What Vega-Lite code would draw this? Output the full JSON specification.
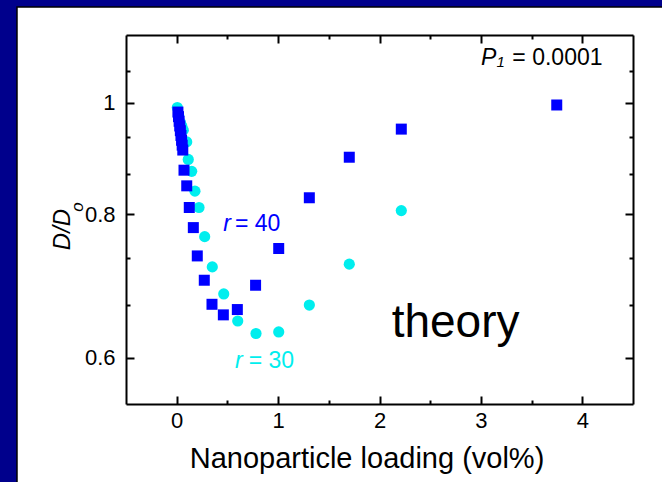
{
  "$schema": "https://vega.github.io/schema/vega-lite/v6.json",
  "width": 507,
  "height": 369,
  "autosize": {"type": "none"},
  "padding": {"left": 126, "top": 35, "right": 29, "bottom": 78},
  "background": "#00008C",
  "config": {
    "view": {"stroke": null},
    "font": "Liberation Sans",
    "axis": {
      "zindex": 1, "grid": false, "tickColor": "black", "tickWidth": 2,
      "domainColor": "black", "domainWidth": 2, "labelColor": "black", "titleColor": "black",
      "labelFont": "Liberation Sans", "titleFont": "Liberation Sans", "titleFontWeight": "normal",
      "labelFlush": false, "labelOverlap": false, "labelBound": false
    }
  },
  "datasets": {
    "points": [
      {"loading": 0.006, "ratio": 0.991, "r": 30},
      {"loading": 0.02, "ratio": 0.975, "r": 30},
      {"loading": 0.035, "ratio": 0.962, "r": 30},
      {"loading": 0.05, "ratio": 0.955, "r": 30},
      {"loading": 0.065, "ratio": 0.947, "r": 30},
      {"loading": 0.099, "ratio": 0.925, "r": 30},
      {"loading": 0.114, "ratio": 0.893, "r": 30},
      {"loading": 0.148, "ratio": 0.872, "r": 30},
      {"loading": 0.18, "ratio": 0.838, "r": 30},
      {"loading": 0.22, "ratio": 0.811, "r": 30},
      {"loading": 0.276, "ratio": 0.765, "r": 30},
      {"loading": 0.351, "ratio": 0.72, "r": 30},
      {"loading": 0.464, "ratio": 0.682, "r": 30},
      {"loading": 0.602, "ratio": 0.646, "r": 30},
      {"loading": 0.782, "ratio": 0.63, "r": 30},
      {"loading": 1.006, "ratio": 0.632, "r": 30},
      {"loading": 1.308, "ratio": 0.667, "r": 30},
      {"loading": 1.702, "ratio": 0.724, "r": 30},
      {"loading": 2.215, "ratio": 0.806, "r": 30},
      {"loading": 0.012, "ratio": 0.982, "r": 40},
      {"loading": 0.018, "ratio": 0.973, "r": 40},
      {"loading": 0.024, "ratio": 0.964, "r": 40},
      {"loading": 0.03, "ratio": 0.955, "r": 40},
      {"loading": 0.036, "ratio": 0.946, "r": 40},
      {"loading": 0.042, "ratio": 0.937, "r": 40},
      {"loading": 0.048, "ratio": 0.928, "r": 40},
      {"loading": 0.054, "ratio": 0.919, "r": 40},
      {"loading": 0.06, "ratio": 0.91, "r": 40},
      {"loading": 0.072, "ratio": 0.874, "r": 40},
      {"loading": 0.099, "ratio": 0.847, "r": 40},
      {"loading": 0.124, "ratio": 0.811, "r": 40},
      {"loading": 0.164, "ratio": 0.779, "r": 40},
      {"loading": 0.203, "ratio": 0.736, "r": 40},
      {"loading": 0.272, "ratio": 0.701, "r": 40},
      {"loading": 0.348, "ratio": 0.668, "r": 40},
      {"loading": 0.46, "ratio": 0.654, "r": 40},
      {"loading": 0.598, "ratio": 0.661, "r": 40},
      {"loading": 0.778, "ratio": 0.694, "r": 40},
      {"loading": 1.006, "ratio": 0.747, "r": 40},
      {"loading": 1.308, "ratio": 0.827, "r": 40},
      {"loading": 1.702, "ratio": 0.897, "r": 40},
      {"loading": 2.215, "ratio": 0.949, "r": 40},
      {"loading": 3.748, "ratio": 0.996, "r": 40}
    ]
  },
  "resolve": {"axis": {"x": "independent", "y": "independent"}},
  "layer": [
    {
      "data": {"values": [{"panel": "frame"}]},
      "mark": {"type": "rect", "fill": "white", "stroke": "black", "strokeWidth": 1.5},
      "encoding": {
        "x": {"datum": -1.575, "type": "quantitative",
          "scale": {"type": "linear", "domain": [-0.5, 4.5], "nice": false, "zero": false},
          "axis": {"orient": "bottom", "zindex": 1, "values": [0, 1, 2, 3, 4], "tickSize": -8, "labelFontSize": 22, "labelPadding": 14,
            "domain": true, "title": "Nanoparticle loading (vol%)", "titleFontSize": 29,
            "titleX": 240.5, "titleY": 63, "titleAlign": "center", "titleBaseline": "alphabetic"}},
        "x2": {"datum": 4.9},
        "y": {"datum": 1.212, "type": "quantitative",
          "scale": {"type": "log", "domain": [0.547, 1.146], "nice": false},
          "axis": {"orient": "left", "zindex": 1, "values": [0.6, 0.8, 1], "format": "~g", "tickSize": -8, "labelFontSize": 22, "labelPadding": 19,
            "domain": true, "title": "D/D", "titleFontStyle": "italic", "titleFontSize": 24, "titleAngle": 270,
            "titleX": -57, "titleY": 194, "titleAlign": "center", "titleBaseline": "alphabetic"}},
        "y2": {"datum": 0.451}
      }
    },
    {
      "data": {"name": "points"},
      "transform": [{"filter": "datum.r == 30"}],
      "mark": {"type": "point", "shape": "circle", "filled": true, "color": "#00EEEE", "size": 125, "opacity": 1},
      "encoding": {
        "x": {"field": "loading", "type": "quantitative",
          "scale": {"type": "linear", "domain": [-0.5, 4.5], "nice": false, "zero": false},
          "axis": {"orient": "bottom", "zindex": 1, "values": [0.5, 1.5, 2.5, 3.5], "tickSize": -4, "labels": false, "domain": false, "title": null}},
        "y": {"field": "ratio", "type": "quantitative",
          "scale": {"type": "log", "domain": [0.547, 1.146], "nice": false},
          "axis": {"orient": "left", "zindex": 1, "values": [0.6667, 0.7333, 0.8667, 0.9333, 1.0667], "tickSize": -4, "labels": false, "domain": false, "title": null}}
      }
    },
    {
      "data": {"name": "points"},
      "transform": [{"filter": "datum.r == 40"}],
      "mark": {"type": "point", "shape": "square", "filled": true, "color": "#0000FF", "size": 121, "opacity": 1},
      "encoding": {
        "x": {"field": "loading", "type": "quantitative",
          "scale": {"type": "linear", "domain": [-0.5, 4.5], "nice": false, "zero": false},
          "axis": {"orient": "top", "zindex": 1, "values": [0, 1, 2, 3, 4], "tickSize": -8, "labels": false, "domain": true, "title": null}},
        "y": {"field": "ratio", "type": "quantitative",
          "scale": {"type": "log", "domain": [0.547, 1.146], "nice": false},
          "axis": {"orient": "right", "zindex": 1, "values": [0.6, 0.8, 1], "tickSize": -8, "labels": false, "domain": true, "title": null}}
      }
    },
    {
      "data": {"values": [{"label": "theory"}]},
      "mark": {"type": "text", "fontSize": 46, "align": "left", "baseline": "alphabetic", "color": "black"},
      "encoding": {
        "x": {"datum": 2.12, "type": "quantitative",
          "axis": {"orient": "top", "zindex": 1, "values": [0.5, 1.5, 2.5, 3.5], "tickSize": -4, "labels": false, "domain": false, "title": null}},
        "y": {"datum": 0.626, "type": "quantitative",
          "axis": {"orient": "right", "zindex": 1, "values": [0.6667, 0.7333, 0.8667, 0.9333, 1.0667], "tickSize": -4, "labels": false, "domain": false, "title": null}},
        "text": {"field": "label"}
      }
    },
    {
      "data": {"values": [{"label": "P"}]},
      "mark": {"type": "text", "fontSize": 23, "fontStyle": "italic", "align": "left", "baseline": "alphabetic", "color": "black"},
      "encoding": {
        "x": {"datum": 3.0, "type": "quantitative", "axis": null},
        "y": {"datum": 1.079, "type": "quantitative", "axis": null},
        "text": {"field": "label"}
      }
    },
    {
      "data": {"values": [{"label": "1"}]},
      "mark": {"type": "text", "fontSize": 15, "fontStyle": "italic", "align": "left", "baseline": "alphabetic", "color": "black"},
      "encoding": {
        "x": {"datum": 3.155, "type": "quantitative", "axis": null},
        "y": {"datum": 1.0748, "type": "quantitative", "axis": null},
        "text": {"field": "label"}
      }
    },
    {
      "data": {"values": [{"label": "= 0.0001"}]},
      "mark": {"type": "text", "fontSize": 23, "align": "left", "baseline": "alphabetic", "color": "black"},
      "encoding": {
        "x": {"datum": 3.31, "type": "quantitative", "axis": null},
        "y": {"datum": 1.079, "type": "quantitative", "axis": null},
        "text": {"field": "label"}
      }
    },
    {
      "data": {"values": [{"label": "r"}]},
      "mark": {"type": "text", "fontSize": 23, "fontStyle": "italic", "align": "left", "baseline": "alphabetic", "color": "#0000FF"},
      "encoding": {
        "x": {"datum": 0.46, "type": "quantitative", "axis": null},
        "y": {"datum": 0.774, "type": "quantitative", "axis": null},
        "text": {"field": "label"}
      }
    },
    {
      "data": {"values": [{"label": "= 40"}]},
      "mark": {"type": "text", "fontSize": 23, "align": "left", "baseline": "alphabetic", "color": "#0000FF"},
      "encoding": {
        "x": {"datum": 0.575, "type": "quantitative", "axis": null},
        "y": {"datum": 0.774, "type": "quantitative", "axis": null},
        "text": {"field": "label"}
      }
    },
    {
      "data": {"values": [{"label": "r"}]},
      "mark": {"type": "text", "fontSize": 23, "fontStyle": "italic", "align": "left", "baseline": "alphabetic", "color": "#00EEEE"},
      "encoding": {
        "x": {"datum": 0.575, "type": "quantitative", "axis": null},
        "y": {"datum": 0.588, "type": "quantitative", "axis": null},
        "text": {"field": "label"}
      }
    },
    {
      "data": {"values": [{"label": "= 30"}]},
      "mark": {"type": "text", "fontSize": 23, "align": "left", "baseline": "alphabetic", "color": "#00EEEE"},
      "encoding": {
        "x": {"datum": 0.71, "type": "quantitative", "axis": null},
        "y": {"datum": 0.588, "type": "quantitative", "axis": null},
        "text": {"field": "label"}
      }
    },
    {
      "data": {"values": [{"label": "o"}]},
      "mark": {"type": "text", "fontSize": 17, "fontStyle": "italic", "align": "center", "baseline": "middle", "angle": 270, "dy": -48, "color": "black"},
      "encoding": {
        "x": {"datum": -0.5, "type": "quantitative", "axis": null},
        "y": {"datum": 0.812, "type": "quantitative", "axis": null},
        "text": {"field": "label"}
      }
    }
  ]
}
